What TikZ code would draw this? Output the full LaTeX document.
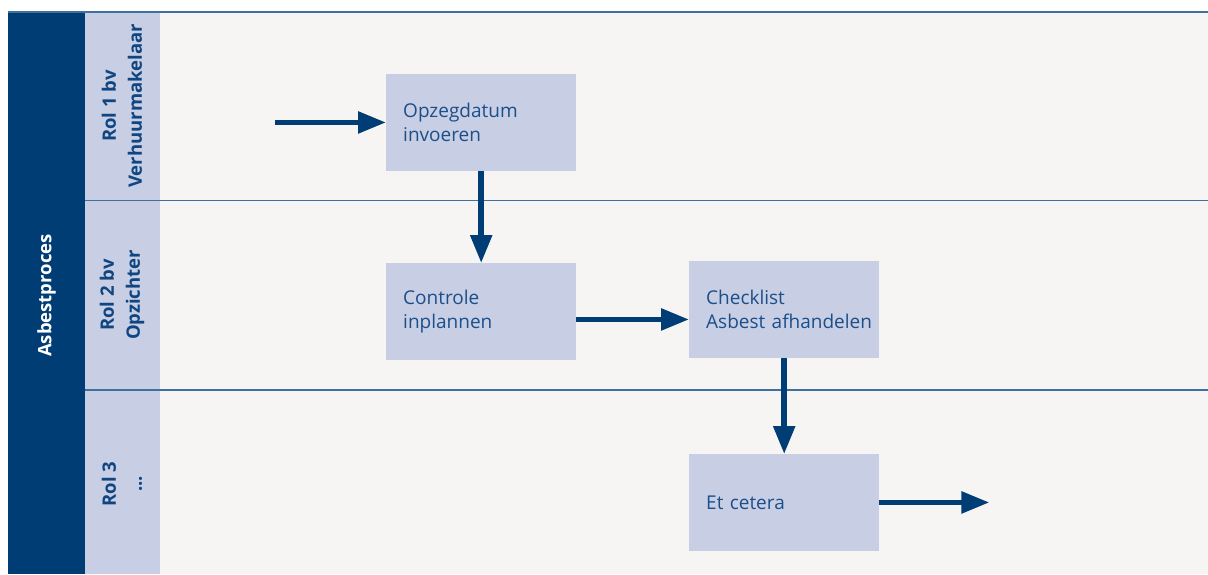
\documentclass[tikz,border=0pt]{standalone}
\usepackage{fontspec}
\setmainfont{Open Sans}
\usetikzlibrary{arrows.meta,calc}
\definecolor{bgc}{HTML}{F6F5F3}
\definecolor{dblue}{HTML}{003D74}
\definecolor{lanec}{HTML}{C8CEE4}
\definecolor{linec}{HTML}{4070A0}
\definecolor{txtc}{HTML}{1B4F8A}
\definecolor{lbl}{HTML}{0F4581}
\begin{document}
\begin{tikzpicture}[x=1pt,y=-1pt,
  procbox/.style={fill=lanec, draw=none, minimum height=96.5pt, text width=156pt,
    inner xsep=17pt, inner ysep=0pt, align=left, text=txtc, anchor=north west,
    font=\fontsize{19}{24}\selectfont},
  lanelabel/.style={rotate=90, align=center, text=lbl, inner sep=0pt,
    font=\bfseries\fontsize{18.5}{26}\selectfont},
  arr/.style={draw=dblue, line width=5.5pt, -{Triangle[length=28pt,width=21pt]}},
  laneline/.style={draw=linec, line width=1.3pt}]
\useasboundingbox (0,0) rectangle (1208,574);
\fill[white] (0,0) rectangle (1208,574);
\fill[bgc] (8,12) rectangle (1208,574);
\fill[dblue] (8,12) rectangle (85,574);
\fill[lanec] (85,12) rectangle (160,574);
\draw[laneline, line width=2pt] (8,12) -- (1208,12);
\draw[laneline] (85,200.7) -- (1208,200.7);
\draw[laneline] (85,390) -- (1208,390);

\node[rotate=90, text=white, inner sep=0pt, font=\bfseries\fontsize{18.5}{24}\selectfont] (proc) at (46.5,295.5) {Asbestproces};
\node[lanelabel] (r1) at (122,106) {Rol 1 bv\\Verhuurmakelaar};
\node[lanelabel] (r2) at (122,295) {Rol 2 bv\\Opzichter};
\node[lanelabel] (r3) at (122,484) {Rol 3\\...};

\node[procbox] (b1) at (386,74) {Opzegdatum\\invoeren};
\node[procbox] (b2) at (386,263) {Controle\\inplannen};
\node[procbox] (b3) at (689,261) {Checklist\\\mbox{Asbest afhandelen}};
\node[procbox] (b4) at (689,454) {Et cetera};

\coordinate (in) at ($(b1.west)+(-111,0)$);
\coordinate (out) at ($(b4.east)+(110,0)$);
\coordinate (m2) at ($(b2.east)+(0,8)$);

\draw[arr] (in) -- (b1.west);
\draw[arr] (b1.south) -- (b2.north);
\draw[arr] (m2) -- (m2 -| b3.west);
\draw[arr] (b3.south) -- (b4.north);
\draw[arr] (b4.east) -- (out);
\end{tikzpicture}
\end{document}
